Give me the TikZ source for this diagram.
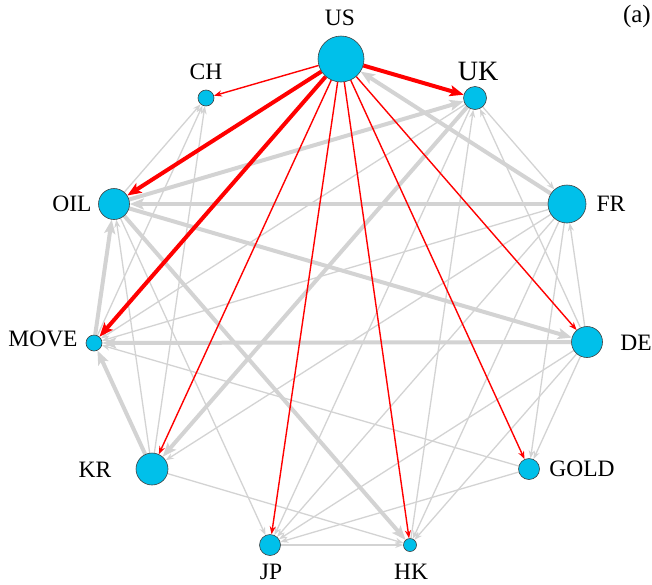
\documentclass[tikz,border=0pt]{standalone}
\usepackage{fontspec}
\setmainfont{Liberation Serif}
\usetikzlibrary{arrows.meta,backgrounds}
\definecolor{vfill}{RGB}{0,192,234}
\definecolor{egray}{RGB}{211,211,211}
\definecolor{ered}{RGB}{255,0,0}
\tikzset{
  vtx/.style={circle,draw=black!75,line width=0.6pt,fill=vfill,inner sep=0pt},
  lab/.style={font=\fontsize{23.5}{25}\selectfont,inner sep=0pt},
  gthin/.style={draw=egray,line width=1.3pt,-{Stealth[length=8pt,width=6pt]}},
  gthick/.style={draw=egray,line width=4pt,-{Stealth[length=14pt,width=11pt,inset=3pt]}},
  rthin/.style={draw=ered,line width=1.4pt,-{Stealth[length=8pt,width=6pt]}},
  rthick/.style={draw=ered,line width=4pt,-{Stealth[length=14pt,width=11pt,inset=3pt]}}
}
\begin{document}
\begin{tikzpicture}[x=1pt,y=-1pt]
\useasboundingbox (0,0) rectangle (652,584);
\node[vtx,minimum size=46pt] (US) at (341,59) {};
\node[vtx,minimum size=16pt] (CH) at (206,98) {};
\node[vtx,minimum size=23pt] (UK) at (475,98) {};
\node[vtx,minimum size=31pt] (OIL) at (114,204) {};
\node[vtx,minimum size=38pt] (FR) at (567,204) {};
\node[vtx,minimum size=16pt] (MOVE) at (94,343) {};
\node[vtx,minimum size=31pt] (DE) at (587,342) {};
\node[vtx,minimum size=32pt] (KR) at (152,469) {};
\node[vtx,minimum size=21pt] (GOLD) at (529,469) {};
\node[vtx,minimum size=21pt] (JP) at (270,545) {};
\node[vtx,minimum size=13pt] (HK) at (410,545) {};
\begin{scope}[on background layer]
% thin gray
\draw[gthin] (OIL) -- (CH);
\draw[gthin] (MOVE) -- (CH);
\draw[gthin] (KR) -- (CH);
\draw[gthin] (UK) -- (FR);
\draw[gthin] (DE) -- (UK);
\draw[gthin] (HK) -- (UK);
\draw[gthin] (UK) -- (JP);
\draw[gthin] (UK) -- (MOVE);
\draw[gthin] (FR) -- (MOVE);
\draw[gthin] (FR) -- (KR);
\draw[gthin] (FR) -- (JP);
\draw[gthin] (FR) -- (HK);
\draw[gthin] (FR) -- (GOLD);
\draw[gthin] (DE) -- (FR);
\draw[gthin] (DE) -- (GOLD);
\draw[gthin] (DE) -- (JP);
\draw[gthin] (DE) -- (HK);
\draw[gthin] (GOLD) -- (MOVE);
\draw[gthin] (GOLD) -- (JP);
\draw[gthin] (KR) -- (HK);
\draw[gthin] (JP) -- (HK);
\draw[gthin] (OIL) -- (JP);
\draw[gthin] (KR) -- (OIL);
% thick gray
\draw[gthick] (FR) -- (OIL);
\draw[gthick] (FR) -- (US);
\draw[gthick] (OIL) -- (UK);
\draw[gthick] (UK) -- (KR);
\draw[gthick] (OIL) -- (DE);
\draw[gthick] (DE) -- (MOVE);
\draw[gthick] (OIL) -- (HK);
\draw[gthick] (KR) -- (MOVE);
\draw[gthick] (MOVE) -- (OIL);
% red
\draw[rthin] (US) -- (CH);
\draw[rthin] (US) -- (KR);
\draw[rthin] (US) -- (JP);
\draw[rthin] (US) -- (HK);
\draw[rthin] (US) -- (GOLD);
\draw[rthin] (US) -- (DE);
\draw[rthick] (US) -- (UK);
\draw[rthick] (US) -- (OIL);
\draw[rthick] (US) -- (MOVE);
\end{scope}
\node[lab] (lUS) at (340,18) {US};
\node[lab] (lCH) at (206,72) {CH};
\node[lab,font=\fontsize{28}{30}\selectfont] (lUK) at (478,71) {UK};
\node[lab] (lOIL) at (72,204) {OIL};
\node[lab] (lFR) at (611,204) {FR};
\node[lab] (lMOVE) at (43,339) {MOVE};
\node[lab] (lDE) at (636,343) {DE};
\node[lab] (lKR) at (95,470) {KR};
\node[lab] (lGOLD) at (582,469) {GOLD};
\node[lab] (lJP) at (271,572) {JP};
\node[lab] (lHK) at (411,572) {HK};
\node[lab,anchor=east,font=\fontsize{25}{27}\selectfont] (la) at (651,16) {(a)};
\end{tikzpicture}
\end{document}
